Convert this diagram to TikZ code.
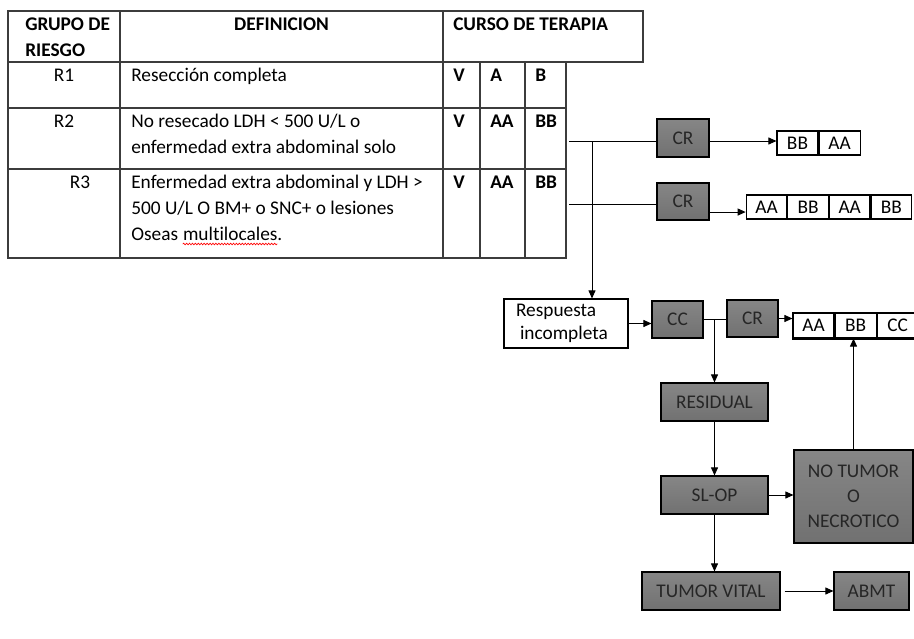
\documentclass[tikz,border=0pt]{standalone}
\usepackage{fontspec}
\setmainfont{Carlito}[Ligatures=NoCommon]
\usetikzlibrary{arrows.meta,decorations.pathmorphing}
\definecolor{tline}{HTML}{3C3C3C}
\definecolor{btop}{HTML}{868686}
\definecolor{bbot}{HTML}{717171}
\definecolor{btext}{HTML}{262626}
\begin{document}
\begin{tikzpicture}[x=0.75pt,y=-0.75pt,
  txt/.style={font=\fontsize{14.5}{19.5}\selectfont, inner sep=0pt, text=black},
  btxt/.style={font=\fontsize{14.5}{19.5}\selectfont\bfseries, inner sep=0pt, text=black},
  tab/.style={draw=tline, line width=0.9pt},
  dbox/.style={draw=black, line width=0.8pt, top color=btop, bottom color=bbot, text=btext,
    font=\fontsize{14.5}{18.75}\selectfont, inner sep=0pt},
  cell/.style={draw=black, line width=0.8pt, fill=white, inner sep=0pt, text=black,
    font=\fontsize{14.5}{18.75}\selectfont},
  wbox/.style={draw=black, line width=0.8pt, fill=white, text=black,
    font=\fontsize{14.5}{18}\selectfont},
  conn/.style={draw=black, line width=0.75pt},
  arr/.style={conn, -{Triangle[length=6pt,width=5.2pt]}}
]
\useasboundingbox (0,0) rectangle (914,639);
\clip (0,0) rectangle (914,639);
\fill[white] (0,0) rectangle (914,639);

% ---------- table ----------
\draw[tab] (8,11) rectangle (643,62);
\draw[tab] (8,62) rectangle (566,258);
\draw[tab] (120,11) -- (120,258);
\draw[tab] (443,11) -- (443,258);
\draw[tab] (8,108) -- (566,108);
\draw[tab] (8,169) -- (566,169);
\draw[tab] (480,62) -- (480,258);
\draw[tab] (525,62) -- (525,258);

\node[btxt, anchor=base west] (hg1) at (25,30) {GRUPO DE};
\node[btxt, anchor=base west] (hg2) at (25,56) {RIESGO};
\node[btxt, anchor=base] (hdef) at (281.5,30) {DEFINICION};
\node[btxt, anchor=base west] (hcur) at (453,30) {CURSO DE TERAPIA};

\node[txt, anchor=base] (r1) at (64,81) {R1};
\node[txt, anchor=base west] (d1) at (131,81) {Resección completa};
\node[btxt, anchor=base west] (v1) at (453,81) {V};
\node[btxt, anchor=base west] (a1) at (490,81) {A};
\node[btxt, anchor=base west] (b1) at (535,81) {B};

\node[txt, anchor=base] (r2) at (64,127) {R2};
\node[txt, anchor=base west] (d2a) at (131,127) {No resecado LDH < 500 U/L o};
\node[txt, anchor=base west] (d2b) at (131,153) {enfermedad extra abdominal solo};
\node[btxt, anchor=base west] (v2) at (453,127) {V};
\node[btxt, anchor=base west] (a2) at (490,127) {AA};
\node[btxt, anchor=base west] (b2) at (535,127) {BB};

\node[txt, anchor=base] (r3) at (80,188) {R3};
\node[txt, anchor=base west] (d3a) at (131,188) {Enfermedad extra abdominal y LDH >};
\node[txt, anchor=base west] (d3b) at (131,214) {500 U/L O BM+ o SNC+ o lesiones};
\node[txt, anchor=base west] (d3c) at (131,240) {Oseas};
\node[txt, anchor=base west] (d3d) at ([xshift=3.3pt]d3c.base east) {multilocales.};
\draw[red, line width=0.5pt, decorate, decoration={snake, amplitude=0.6pt, segment length=2.2pt}]
  ([yshift=-3pt]d3d.base west) -- ([yshift=-3pt,xshift=-4pt]d3d.base east);
\node[btxt, anchor=base west] (v3) at (453,188) {V};
\node[btxt, anchor=base west] (a3) at (490,188) {AA};
\node[btxt, anchor=base west] (b3) at (535,188) {BB};

% ---------- flow ----------
\node[dbox, minimum width=39pt, minimum height=28.5pt] (CR1) at (683,138) {CR};
\node[dbox, minimum width=39pt, minimum height=27.75pt] (CR2) at (683,201.5) {CR};

\node[cell, minimum width=30.75pt, minimum height=18pt] (ba1) at (797.5,143) {BB};
\node[cell, minimum width=30.75pt, minimum height=18pt, anchor=west] (ba2) at (ba1.east) {AA};

\node[cell, minimum width=30.4pt, minimum height=18pt] (ab1) at (766.5,207) {AA};
\node[cell, minimum width=30.4pt, minimum height=18pt, anchor=west] (ab2) at (ab1.east) {BB};
\node[cell, minimum width=30.4pt, minimum height=18pt, anchor=west] (ab3) at (ab2.east) {AA};
\node[cell, minimum width=30.4pt, minimum height=18pt, anchor=west] (ab4) at (ab3.east) {BB};

\node[wbox, minimum width=93pt, minimum height=36.75pt, text width=75pt, inner xsep=9pt,
  inner ysep=0pt, align=left] (resp) at (566,323.5) {\raisebox{-3pt}{Respuesta}\\\hspace*{3pt}\raisebox{-2pt}{incompleta}};
\node[dbox, minimum width=38.25pt, minimum height=27.75pt] (CC) at (677.5,319.5) {CC};
\node[dbox, minimum width=38.25pt, minimum height=27.75pt] (CR3) at (752.5,318.5) {CR};

\node[cell, minimum width=30.75pt, minimum height=18.75pt] (abc1) at (813.5,325.5) {AA};
\node[cell, minimum width=30.75pt, minimum height=18.75pt, anchor=west] (abc2) at (abc1.east) {BB};
\node[cell, minimum width=30.75pt, minimum height=18.75pt, anchor=west] (abc3) at (abc2.east) {CC};
\draw[line width=1.8pt] (abc1.south west) -- (abc3.south east);

\node[dbox, minimum width=80.25pt, minimum height=28.5pt] (RES) at (714.5,402) {RESIDUAL};
\node[dbox, minimum width=80.25pt, minimum height=28.5pt] (SLOP) at (714.5,495) {SL-OP};
\node[dbox, minimum width=89.25pt, minimum height=69.75pt, align=center] (NT) at (853.5,496.5)
  {NO TUMOR\\O\\NECROTICO};
\node[dbox, minimum width=103.5pt, minimum height=28.5pt] (TV) at (711,591) {TUMOR VITAL};
\node[dbox, minimum width=56.25pt, minimum height=28.5pt] (ABMT) at (871.5,591) {ABMT};

% connectors
\coordinate (t2) at (569,141);
\coordinate (t3) at (569,204);
\coordinate (vtop) at (592,141);
\draw[conn] (t2) -- (t2 -| CR1.west);
\draw[conn] (t3) -- (t3 -| CR2.west);
\draw[arr] (vtop) -- (vtop |- resp.north);
\draw[arr] (CR1.east |- t2) -- (ba1.west |- t2);
\draw[arr] ([yshift=-7.9pt]CR2.east) -- ([yshift=-7.9pt]CR2.east -| ab1.west);
\draw[arr] (resp.east) -- (resp.east -| CC.west);
\draw[conn] (CC.east) -- (CC.east -| CR3.west);
\draw[arr] (CC.east -| RES.north) -- (RES.north);
\draw[arr] (CR3.east) -- (CR3.east -| abc1.west);
\draw[arr] (RES.south) -- (SLOP.north);
\draw[arr] (SLOP.east) -- (SLOP.east -| NT.west);
\draw[arr] (NT.north) -- (NT.north |- abc2.south);
\draw[arr] (SLOP.south) -- (SLOP.south |- TV.north);
\draw[arr] ([xshift=3pt]TV.east) -- (ABMT.west);
\end{tikzpicture}
\end{document}
